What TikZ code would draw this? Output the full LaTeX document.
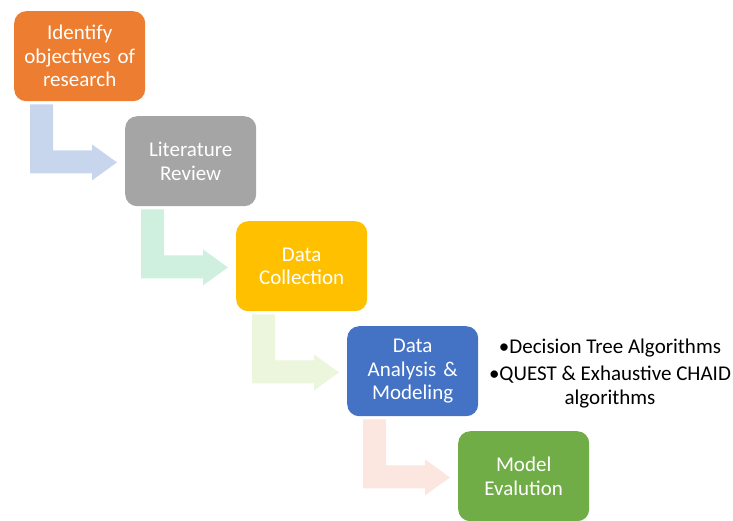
\documentclass[tikz,border=0pt]{standalone}
\usepackage{fontspec}
\setmainfont{Carlito}
\usetikzlibrary{calc}
\definecolor{cOrange}{HTML}{ED7D31}
\definecolor{cGray}{HTML}{A5A5A5}
\definecolor{cGold}{HTML}{FFC000}
\definecolor{cBlue}{HTML}{4472C4}
\definecolor{cGreen}{HTML}{70AD47}
\definecolor{aBlue}{HTML}{C7D6EC}
\definecolor{aGreen}{HTML}{CFF0DF}
\definecolor{aLime}{HTML}{EBF6DC}
\definecolor{aPink}{HTML}{FBE7DF}
\tikzset{
  stagebox/.style={fill=#1, draw=none, rounded corners=12pt, minimum width=131pt, minimum height=90pt,
    text width=129pt, align=center, text=white, font=\fontsize{21}{23.5}\selectfont, inner sep=0pt, anchor=north west},
  notes/.style={align=center, text=black, font=\fontsize{21}{24}\selectfont, inner sep=0pt}
}
\newcommand\bentarrow[2]{%
  \fill[#2] ([shift={(16,3)}]#1.south west) -- ([shift={(39,3)}]#1.south west)
    -- ([shift={(39,49)}]#1.south west) -- ([shift={(78,49)}]#1.south west)
    -- ([shift={(78,43)}]#1.south west) -- ([shift={(103,61)}]#1.south west)
    -- ([shift={(78,79)}]#1.south west) -- ([shift={(78,72)}]#1.south west)
    -- ([shift={(16,72)}]#1.south west) -- cycle;}
\begin{document}
\begin{tikzpicture}[x=1pt,y=-1pt]
\useasboundingbox (0,0) rectangle (733,520);
\node[stagebox=cOrange] (b1) at (14,11) {Identify\\objectives of\\research};
\node[stagebox=cGray] (b2) at (125,116) {Literature\\Review};
\node[stagebox=cGold] (b3) at (236,221) {Data\\Collection};
\node[stagebox=cBlue] (b4) at (347,326) {Data\\Analysis \&\\Modeling};
\node[stagebox=cGreen] (b5) at (458,431) {Model\\Evalution};
\bentarrow{b1}{aBlue}
\bentarrow{b2}{aGreen}
\bentarrow{b3}{aLime}
\bentarrow{b4}{aPink}
\node[notes] (n1) at (610,374) {•Decision Tree Algorithms\\[3pt]•QUEST \& Exhaustive CHAID\\algorithms};
\end{tikzpicture}
\end{document}
